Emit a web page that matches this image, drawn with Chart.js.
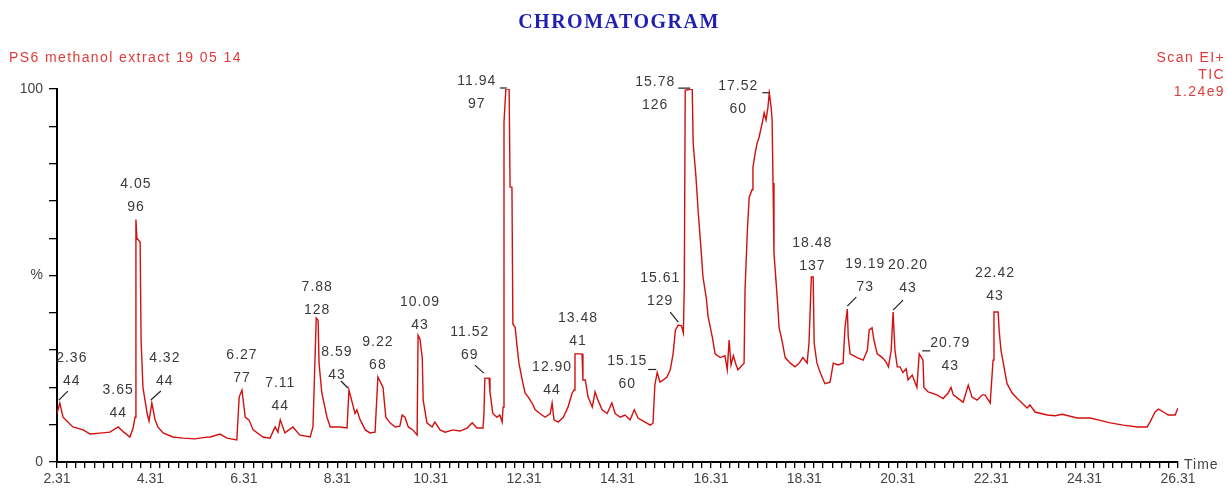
<!DOCTYPE html>
<html>
<head>
<meta charset="utf-8">
<title>Chromatogram</title>
<script src="https://cdn.jsdelivr.net/npm/chart.js@4.4.1/dist/chart.umd.min.js"></script>
<style>
    html, body { margin: 0; padding: 0; background: #fff; }
    #wrap { width: 1227px; height: 493px; }
</style>
</head>
<body>
<div id="wrap"><canvas id="tic" width="1227" height="493"></canvas></div>
<script>
// retention time (min)
const times = [
    2.31, 2.37, 2.44, 2.65, 2.87, 3.02, 3.29, 3.44, 3.62, 3.74, 3.87, 3.94, 3.98,
    4.00, 4.02, 4.09, 4.11, 4.15, 4.24, 4.28, 4.34, 4.41, 4.47, 4.58, 4.79, 5.01,
    5.26, 5.48, 5.59, 5.80, 5.95, 6.16, 6.21, 6.27, 6.34, 6.42, 6.51, 6.72, 6.87,
    6.98, 7.04, 7.09, 7.19, 7.36, 7.51, 7.73, 7.79, 7.86, 7.90, 7.92, 7.98, 8.09,
    8.16, 8.37, 8.52, 8.56, 8.63, 8.69, 8.73, 8.80, 8.91, 9.01, 9.12, 9.18, 9.25,
    9.29, 9.35, 9.44, 9.55, 9.65, 9.70, 9.76, 9.83, 9.93, 10.02, 10.04, 10.08,
    10.13, 10.15, 10.23, 10.34, 10.40, 10.51, 10.62, 10.79, 10.94, 11.09, 11.20,
    11.30, 11.43, 11.45, 11.47, 11.56, 11.58, 11.64, 11.73, 11.79, 11.84, 11.86,
    11.88, 11.92, 11.99, 12.01, 12.05, 12.07, 12.12, 12.16, 12.20, 12.27, 12.33,
    12.40, 12.48, 12.55, 12.65, 12.76, 12.87, 12.91, 12.95, 13.04, 13.15, 13.25,
    13.34, 13.38, 13.40, 13.55, 13.57, 13.62, 13.68, 13.77, 13.83, 13.89, 13.98,
    14.09, 14.19, 14.26, 14.37, 14.47, 14.58, 14.67, 14.75, 14.90, 15.01, 15.07,
    15.11, 15.16, 15.22, 15.29, 15.37, 15.44, 15.50, 15.55, 15.61, 15.68, 15.72,
    15.74, 15.76, 15.91, 15.93, 15.99, 16.04, 16.10, 16.14, 16.21, 16.25, 16.34,
    16.40, 16.51, 16.61, 16.66, 16.70, 16.74, 16.79, 16.85, 16.89, 16.98, 17.02,
    17.04, 17.09, 17.13, 17.19, 17.21, 17.26, 17.30, 17.34, 17.41, 17.45, 17.49,
    17.53, 17.56, 17.60, 17.62, 17.64, 17.66, 17.73, 17.77, 17.83, 17.90, 18.01,
    18.11, 18.20, 18.28, 18.37, 18.41, 18.46, 18.50, 18.52, 18.58, 18.65, 18.75,
    18.86, 18.93, 19.03, 19.14, 19.18, 19.23, 19.25, 19.29, 19.44, 19.57, 19.66,
    19.70, 19.76, 19.80, 19.87, 19.98, 20.06, 20.11, 20.17, 20.21, 20.25, 20.30,
    20.36, 20.42, 20.49, 20.53, 20.62, 20.72, 20.77, 20.85, 20.87, 20.96, 21.15,
    21.28, 21.39, 21.45, 21.50, 21.65, 21.71, 21.82, 21.90, 22.01, 22.12, 22.18,
    22.29, 22.35, 22.37, 22.46, 22.48, 22.52, 22.57, 22.65, 22.76, 22.87, 22.97,
    23.08, 23.14, 23.25, 23.51, 23.68, 23.83, 24.15, 24.43, 24.60, 24.86, 25.14,
    25.44, 25.65, 25.71, 25.82, 25.89, 26.00, 26.10, 26.25, 26.31
];

// relative intensity (%) of the TIC at each time above
const intensity = [
    13, 15.8, 12, 9.4, 8.6, 7.5, 7.8, 8.0, 9.4, 8.0, 6.7, 9.1, 12,
    65, 60, 59, 32.7, 20, 13, 11, 15.8, 11.3, 9.4, 7.8, 6.7, 6.4,
    6.2, 6.6, 6.7, 7.5, 6.4, 5.9, 17.4, 19.3, 12, 11.3, 8.6, 6.7, 6.4,
    9.4, 8.0, 11.3, 7.8, 9.4, 7.2, 6.7, 9.4, 38.6, 38, 26.5, 18.5, 12,
    9.4, 9.4, 9.1, 19.3, 16, 13, 14, 11.3, 8.6, 7.8, 8.0, 22.8, 21,
    20, 12, 10.5, 9.4, 9.6, 12.6, 12, 9.4, 8.6, 7.2, 34, 33,
    28, 16.6, 10.5, 9.4, 10.7, 8.6, 8.0, 8.6, 8.3, 9.1, 10.5,
    9.1, 9.1, 12.6, 22.5, 22.5, 18.8, 13, 12, 12.6, 10.7, 14.7,
    91, 100, 100, 73.7, 73.7, 37, 36, 31, 26.5, 22, 18.5,
    17.4, 15.8, 14, 13, 12, 13, 15.8, 11.3, 10.7, 12, 14.7,
    18.5, 19.3, 29, 29, 22, 22, 17.4, 14.7, 18.8, 16.6, 14,
    13, 15.8, 13, 12, 12.6, 11.3, 14, 11.8, 10.7, 9.9, 10.4,
    20.6, 24, 21.4, 22, 22.8, 24.7, 29, 35.4, 36.7, 36.5, 34.6,
    47, 99.7, 100, 85.5, 76.4, 66.7, 56.8, 49.6, 44, 39, 33.5,
    29, 28, 28.5, 24.7, 32.7, 26, 28.5, 26, 24.7, 26, 26.5,
    46, 62, 71, 73, 79, 83, 85.5, 87, 91, 93.6, 91.7,
    95, 99, 95, 91.7, 74.8, 56, 44, 36, 32.7, 28, 26.5,
    25.5, 26.5, 28, 26.5, 31.9, 49.6, 49.6, 31.9, 26.5, 24, 21,
    21.4, 26.5, 26, 26.5, 36, 41, 33.5, 29, 28, 27.3, 30,
    35.4, 36, 32.7, 29, 28, 26.8, 25.5, 30, 40.2, 30, 25.5,
    25.5, 24, 25, 22, 23.3, 20, 29, 27.3, 20, 18.8, 18,
    17, 18.5, 20, 18, 16.6, 16, 20.6, 17.4, 16.6, 18, 18,
    15.8, 27.3, 40.2, 40.2, 35.4, 30, 26.5, 21, 18.5, 17, 15.8,
    14.5, 15.3, 13.4, 12.6, 12.4, 12.8, 11.8, 11.8, 11.3, 10.5, 9.9,
    9.4, 9.4, 10.7, 13.4, 14.2, 13.4, 12.6, 12.6, 14.5
];

// x axis labels
const xTickLabels = ['2.31', '4.31', '6.31', '8.31', '10.31', '12.31', '14.31',
    '16.31', '18.31', '20.31', '22.31', '24.31', '26.31'];

// peak annotations: retention time and base ion
const peakTimes = ['2.36', '3.65', '4.05', '4.32', '6.27', '7.11', '7.88', '8.59',
    '9.22', '10.09', '11.52', '11.94', '12.90', '13.48', '15.15', '15.61', '15.78',
    '17.52', '18.48', '19.19', '20.20', '20.79', '22.42'];
const peakIons = ['44', '44', '96', '44', '77', '44', '128', '43',
    '68', '43', '69', '97', '44', '41', '60', '129', '126',
    '60', '137', '73', '43', '43', '43'];

// where each label sits relative to its peak: [dx, dy, leader (x1,y1,x2,y2) or null]
const labelLayout = [
    [12, -45, [-1, -3, 8, -12]],
    [0, -37, null],
    [0, -35, null],
    [13, -45, [-1, -3, 9, -12]],
    [0, -35, null],
    [0, -37, null],
    [1, -31, null],
    [-12, -38, [-8, -9, -1, -2]],
    [0, -35, null],
    [2, -33, null],
    [-15, -46, [-10, -13, -1, -5]],
    [-29, -8, [-6, -1, 1, -1]],
    [0, -36, null],
    [3, -36, null],
    [-30, -11, [-9, -3, -1, -3]],
    [-18, -47, [-8, -13, 0, -3]],
    [-30, -8, [-7, -2, 5, -2]],
    [-31, -7, [-7, 0, 0, 0]],
    [1, -34, null],
    [18, -45, [0, -3, 9, -12]],
    [15, -47, [0, -2, 10, -12]],
    [31, -11, [3, -3, 11, -3]],
    [1, -39, null]
];

const points = times.map((t, i) => ({ x: t, y: intensity[i] }));

function peakPoint(label) {
    const t = parseFloat(label);
    let best = null;
    points.forEach(p => {
        if (Math.abs(p.x - t) <= 0.1 && (!best || p.y > best.y)) best = p;
    });
    return best;
}

const decorations = {
    id: 'decorations',
    afterDraw(chart) {
        const ctx = chart.ctx;
        const xs = chart.scales.x;
        const ys = chart.scales.y;
        ctx.save();

        // title
        ctx.fillStyle = '#1f1fb4';
        ctx.font = 'bold 20px "Liberation Serif", serif';
        ctx.letterSpacing = '1.5px';
        ctx.textAlign = 'center';
        ctx.textBaseline = 'middle';
        ctx.fillText('CHROMATOGRAM', 619, 23);

        // header lines
        ctx.fillStyle = '#e03a3a';
        ctx.font = '14px "Liberation Sans", Arial, sans-serif';
        ctx.letterSpacing = '1.4px';
        ctx.textAlign = 'left';
        ctx.fillText('PS6 methanol extract 19 05 14', 9, 58);
        ctx.textAlign = 'right';
        ctx.fillText('Scan EI+', 1225, 58);
        ctx.fillText('TIC', 1225, 75);
        ctx.fillText('1.24e9', 1225, 92);

        // axis name
        ctx.fillStyle = '#444';
        ctx.letterSpacing = '1px';
        ctx.textAlign = 'left';
        ctx.fillText('Time', 1184, 465);

        // peak labels
        ctx.font = '14px "Liberation Sans", Arial, sans-serif';
        ctx.letterSpacing = '1px';
        ctx.textAlign = 'center';
        ctx.strokeStyle = '#222';
        ctx.lineWidth = 1.2;
        peakTimes.forEach((lbl, i) => {
            const p = peakPoint(lbl);
            if (!p) return;
            const px = xs.getPixelForValue(p.x);
            const py = ys.getPixelForValue(p.y);
            const [dx, dy, leader] = labelLayout[i];
            ctx.fillStyle = '#3a3a3a';
            ctx.fillText(lbl, px + dx, py + dy);
            ctx.fillText(peakIons[i], px + dx, py + dy + 23);
            if (leader) {
                ctx.beginPath();
                ctx.moveTo(px + leader[0], py + leader[1]);
                ctx.lineTo(px + leader[2], py + leader[3]);
                ctx.stroke();
            }
        });
        ctx.restore();
    }
};

const ctx = document.getElementById('tic').getContext('2d');
const ticChart = new Chart(ctx, {
    type: 'line',
    data: {
        datasets: [{
            data: points,
            borderColor: '#d30f0f',
            borderWidth: 1.4,
            pointRadius: 0,
            tension: 0,
            fill: false
        }]
    },
    options: {
        responsive: false,
        animation: false,
        devicePixelRatio: 1,
        layout: { padding: { left: 0, right: 49, top: 89, bottom: 0 } },
        plugins: {
            legend: { display: false },
            tooltip: { enabled: false }
        },
        scales: {
            x: {
                type: 'linear',
                min: 2.31,
                max: 26.31,
                afterBuildTicks: scale => {
                    const ticks = [];
                    for (let i = 0; i <= 120; i++) ticks.push({ value: 2.31 + i * 0.2 });
                    scale.ticks = ticks;
                },
                afterFit: scale => { scale.height = 31; },
                ticks: {
                    autoSkip: false,
                    maxRotation: 0,
                    padding: 3,
                    color: '#444',
                    font: { family: 'Liberation Sans', size: 14 },
                    callback: (v, i) => (i % 10 === 0 ? xTickLabels[i / 10] : '')
                },
                grid: { drawOnChartArea: false, color: '#000', tickLength: 6, lineWidth: 1.3 },
                border: { color: '#000', width: 2 }
            },
            y: {
                min: 0,
                max: 100,
                afterBuildTicks: scale => {
                    const ticks = [];
                    for (let v = 0; v <= 100; v += 10) ticks.push({ value: v });
                    scale.ticks = ticks;
                },
                afterFit: scale => { scale.width = 57; },
                ticks: {
                    autoSkip: false,
                    padding: 6,
                    color: '#444',
                    font: { family: 'Liberation Sans', size: 14 },
                    callback: v => (v === 0 ? '0' : v === 50 ? '%' : v === 100 ? '100' : '')
                },
                grid: { drawOnChartArea: false, color: '#000', tickLength: 8, lineWidth: 1.3 },
                border: { color: '#000', width: 2 }
            }
        }
    },
    plugins: [decorations]
});
</script>
</body>
</html>
